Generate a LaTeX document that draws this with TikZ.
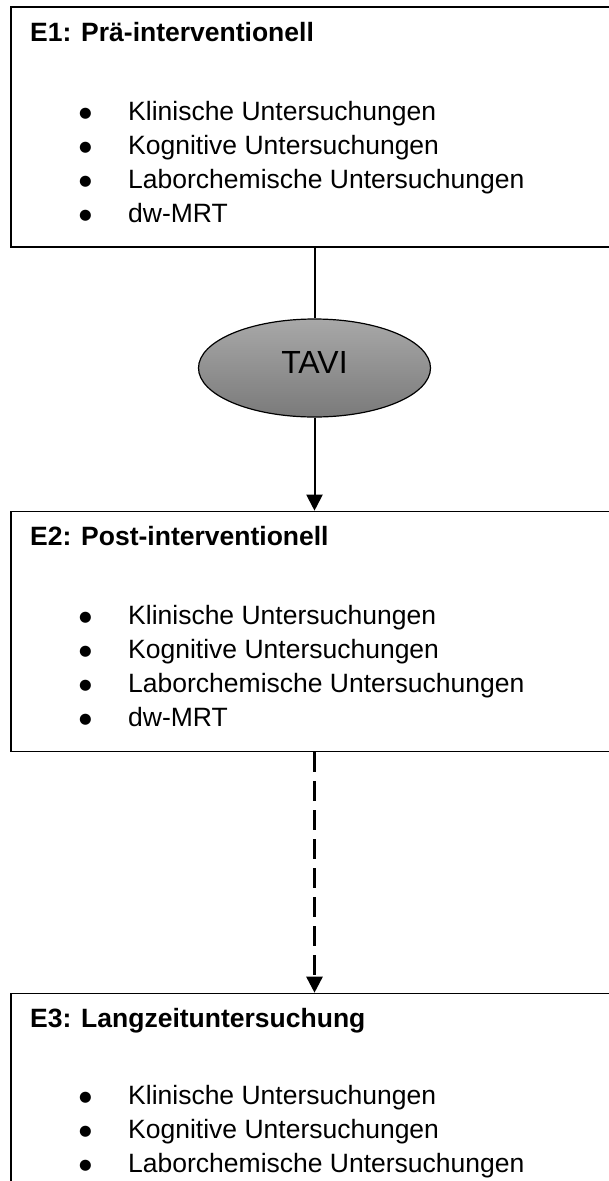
\documentclass[tikz,border=0pt]{standalone}
\usepackage{fontspec}
\setmainfont{Liberation Sans}
\newfontfamily\zeichen{DejaVu Sans}
\usetikzlibrary{shapes.geometric, arrows.meta, positioning}

\definecolor{taviOben}{RGB}{168,168,168}
\definecolor{taviUnten}{RGB}{122,122,122}

\newcommand{\punkt}{\raisebox{3pt}{\zeichen\fontsize{14.5}{14.5}\selectfont ●}}
\newcommand{\untersuchungen}[1]{\begin{tabular}[t]{@{}p{49pt}@{}l@{}}#1\end{tabular}}

\begin{document}
\begin{tikzpicture}[x=1pt, y=-1pt,
    phase/.style={rectangle, draw=black, line width=1.6pt, minimum width=607pt, minimum height=240pt, inner sep=0pt},
    titel/.style={anchor=base west, inner sep=0pt, font=\fontsize{26.5}{34}\selectfont\bfseries},
    liste/.style={anchor=base west, inner sep=0pt, font=\fontsize{26.5}{34}\selectfont},
    eingriff/.style={ellipse, draw=black, line width=1.2pt, top color=taviOben, bottom color=taviUnten, minimum width=232pt, minimum height=98pt, inner sep=0pt, text depth=12pt, font=\fontsize{32}{38}\selectfont},
    pfeil/.style={line width=2pt, -{Triangle[width=16pt,length=16pt]}}]

    \useasboundingbox (0,0) rectangle (609,1181);
    \clip (0,0) rectangle (609,1181);

    % E1
    \node[phase] (e1) at (314.5,127) {};
    \node[titel] (e1titel) at (30,41) {E1: Prä-interventionell};
    \node[liste] (e1liste) at (79,120) {\untersuchungen{\punkt&Klinische Untersuchungen\\
        \punkt&Kognitive Untersuchungen\\ \punkt&Laborchemische Untersuchungen\\ \punkt&dw-MRT}};

    \node[eingriff] (tavi) at (314.5,368) {TAVI};

    % E2
    \node[phase] (e2) at (314.5,631.5) {};
    \node[titel] (e2titel) at (30,545) {E2: Post-interventionell};
    \node[liste] (e2liste) at (79,624) {\untersuchungen{\punkt&Klinische Untersuchungen\\
        \punkt&Kognitive Untersuchungen\\ \punkt&Laborchemische Untersuchungen\\ \punkt&dw-MRT}};

    % E3
    \node[phase] (e3) at (314.5,1113.5) {};
    \node[titel] (e3titel) at (30,1027) {E3: Langzeituntersuchung};
    \node[liste] (e3liste) at (79,1104) {\untersuchungen{\punkt&Klinische Untersuchungen\\
        \punkt&Kognitive Untersuchungen\\ \punkt&Laborchemische Untersuchungen}};

    \draw[line width=2pt] (e1) -- (tavi);
    \draw[pfeil] (tavi) -- (e2);
    \draw[pfeil, line width=2.6pt, dash pattern=on 20pt off 9pt] (e2) -- (e3);

\end{tikzpicture}
\end{document}
